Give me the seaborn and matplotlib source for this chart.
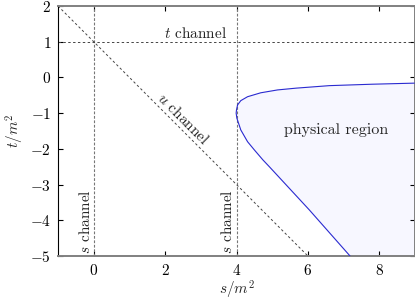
import numpy as np
import pandas as pd
import matplotlib
matplotlib.use("Agg")
import matplotlib.pyplot as plt
import seaborn as sns

# boundary of the physical region (s/m^2, t/m^2)
bound_s = [8.98, 7.80, 6.60, 5.67, 5.15, 4.68, 4.31, 4.12, 4.03, 4.00, 3.99,
           4.01, 4.12, 4.31, 4.50, 4.74, 4.92, 6.04, 7.18]
bound_t = [-0.16, -0.19, -0.23, -0.30, -0.35, -0.43, -0.54, -0.65, -0.77, -0.91, -1.00,
           -1.14, -1.47, -1.80, -2.03, -2.31, -2.50, -3.71, -5.00]

# channel lines
s_channel = [0, 4]
t_channel = [1]
u_line_s = [-1, 6]
u_line_t = [2, -5]

xlim = (-1, 9)
ylim = (-5, 2)
xticks = [0, 2, 4, 6, 8]
yticks = [-5, -4, -3, -2, -1, 0, 1, 2]

sns.set_theme(style="ticks")
plt.rcParams["font.family"] = ["cmr10", "DejaVu Serif"]
plt.rcParams["mathtext.fontset"] = "cm"
plt.rcParams["axes.formatter.use_mathtext"] = True
plt.rcParams["font.size"] = 11

fig = plt.figure(figsize=(4.15, 3.01), dpi=100)
ax = fig.add_axes([58 / 415, 45 / 301, 357 / 415, 250 / 301])

df = pd.DataFrame({"s": bound_s, "t": bound_t})

# shaded physical region
ax.fill(bound_s + [xlim[1]], bound_t + [ylim[0]], color="#f7f7ff", lw=0, zorder=0)
sns.lineplot(data=df, x="s", y="t", sort=False, estimator=None, color="#2a2ad0",
             lw=0.8, ax=ax, zorder=3)

for s0 in s_channel:
    ax.axvline(s0, color="#777777", ls=(0, (2.5, 1.5)), lw=0.8)
for t0 in t_channel:
    ax.axhline(t0, color="#444444", ls=(0, (2.5, 2.5)), lw=0.7)
ax.plot(u_line_s, u_line_t, color="#444444", ls=(0, (2.5, 2.5)), lw=0.7)

ax.text(2.85, 1.03, "$t$ channel", ha="center", va="bottom", fontsize=11)
ax.text(2.5, -1.15, "$u$ channel", ha="center", va="center", rotation=-45,
        rotation_mode="anchor", fontsize=11)
ax.text(-0.03, -4.95, "$s$ channel", ha="right", va="bottom", rotation=90, fontsize=11)
ax.text(3.97, -4.95, "$s$ channel", ha="right", va="bottom", rotation=90, fontsize=11)
ax.text(6.79, -1.47, "physical region", ha="center", va="center", fontsize=11.5)

ax.set_xlim(*xlim)
ax.set_ylim(*ylim)
ax.set_xticks(xticks)
ax.set_yticks(yticks)
ax.set_xlabel("$s/m^2$", fontsize=11, labelpad=1)
ax.set_ylabel("$t/m^2$", fontsize=11, labelpad=3)
ax.tick_params(direction="in", top=True, right=True, length=3.5, width=0.8,
               labelsize=11, colors="black", pad=5)
for side in ["top", "bottom", "right"]:
    ax.spines[side].set_color("#808080")
    ax.spines[side].set_linewidth(1.4)
ax.spines["left"].set_color("black")
ax.spines["left"].set_linewidth(0.8)

fig.savefig("out.png", dpi=100)
